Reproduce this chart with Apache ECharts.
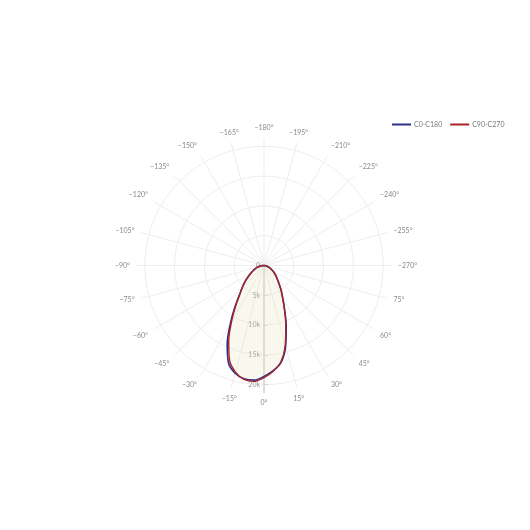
<!DOCTYPE html>
<html>
<head>
<meta charset="utf-8">
<script src="https://cdn.jsdelivr.net/npm/echarts@6/dist/echarts.min.js"></script>
<style>
  html, body { margin: 0; padding: 0; background: #fff; }
  #chart { width: 530px; height: 530px; }
</style>
</head>
<body>
<div id="chart"></div>
<script>
// angles of the C-planes, -90..90 deg (0 = straight down)
var angles = [-90, -85, -80, -75, -70, -65, -60, -55, -50, -45, -40, -35, -30, -25, -20, -15, -10, -5,
  0, 5, 10, 15, 20, 25, 30, 35, 40, 45, 50, 55, 60, 65, 70, 75, 80, 85, 90];
// luminous intensity, cd
var c0c180 = [0, 300, 700, 1200, 1600, 2000, 2500, 3200, 4100, 5100, 6400, 8500, 11300, 14600, 17400, 18700, 19300, 19300,
  18600, 17700, 16500, 14000, 10900, 8200, 6300, 5000, 3900, 3100, 2600, 2100, 1600, 1200, 900, 600, 400, 200, 0];
var c90c270 = [0, 300, 700, 1200, 1600, 2000, 2500, 3200, 4100, 5100, 6300, 8300, 10900, 14000, 16900, 18500, 19400, 19500,
  18800, 17800, 16400, 13800, 10700, 8100, 6200, 4900, 3800, 3100, 2500, 2000, 1600, 1200, 900, 600, 400, 200, 0];
var seriesNames = ['C0-C180', 'C90-C270'];
var radialTicks = [0, 5000, 10000, 15000, 20000];
var radialMax = 21300;

var chart = echarts.init(document.getElementById('chart'));

// angle shown counter-clockwise from the bottom
function toPolar(vals) {
  return vals.map(function (v, i) {
    var a = angles[i] < 0 ? angles[i] + 360 : angles[i];
    return [v, a];
  });
}

var option = {
  animation: false,
  textStyle: { fontFamily: 'Lato' },
  legend: {
    data: seriesNames,
    left: 392,
    top: 121,
    padding: 0,
    itemWidth: 19,
    itemHeight: 2,
    itemGap: 8,
    icon: 'rect',
    textStyle: { fontSize: 7, color: '#777', fontFamily: 'Lato', padding: [0, 0, 0, -2] }
  },
  polar: {
    center: [264, 265.5],
    radius: 127
  },
  angleAxis: {
    type: 'value',
    min: 0,
    max: 360,
    interval: 15,
    startAngle: 270,
    clockwise: false,
    axisLine: { show: false },
    axisTick: { show: false },
    splitLine: { show: true, lineStyle: { color: '#ededed', width: 1 } },
    axisLabel: {
      fontSize: 7,
      color: '#8a8a8a',
      margin: 7,
      formatter: function (v) {
        if (v >= 360) return '';
        return v < 90 ? v + '°' : '−' + (360 - v) + '°';
      }
    }
  },
  radiusAxis: {
    type: 'value',
    min: 0,
    max: radialMax,
    axisLine: { show: true, lineStyle: { color: '#d6d6cc', width: 1.5 } },
    axisTick: {
      show: true,
      inside: true,
      length: 4,
      customValues: radialTicks,
      lineStyle: { color: '#d6d6cc' }
    },
    splitLine: { show: true, lineStyle: { color: '#ededed', width: 1 } },
    axisLabel: {
      margin: -4,
      align: 'right',
      fontSize: 7,
      color: '#999',
      customValues: radialTicks,
      formatter: function (v) { return v === 0 ? '0' : (v / 1000) + 'k'; }
    }
  },
  series: [
    {
      name: seriesNames[0],
      type: 'line',
      coordinateSystem: 'polar',
      data: toPolar(c0c180),
      smooth: 0.35,
      showSymbol: false,
      symbol: 'none',
      z: 3,
      lineStyle: { color: '#2e2e8c', width: 1.6 },
      itemStyle: { color: '#2e2e8c' },
      areaStyle: { color: 'rgba(228,228,190,0.35)' }
    },
    {
      name: seriesNames[1],
      type: 'line',
      coordinateSystem: 'polar',
      data: toPolar(c90c270),
      smooth: 0.35,
      showSymbol: false,
      symbol: 'none',
      z: 4,
      lineStyle: { color: '#a82424', width: 1.4 },
      itemStyle: { color: '#a82424' }
    }
  ]
};

chart.setOption(option);
</script>
</body>
</html>
